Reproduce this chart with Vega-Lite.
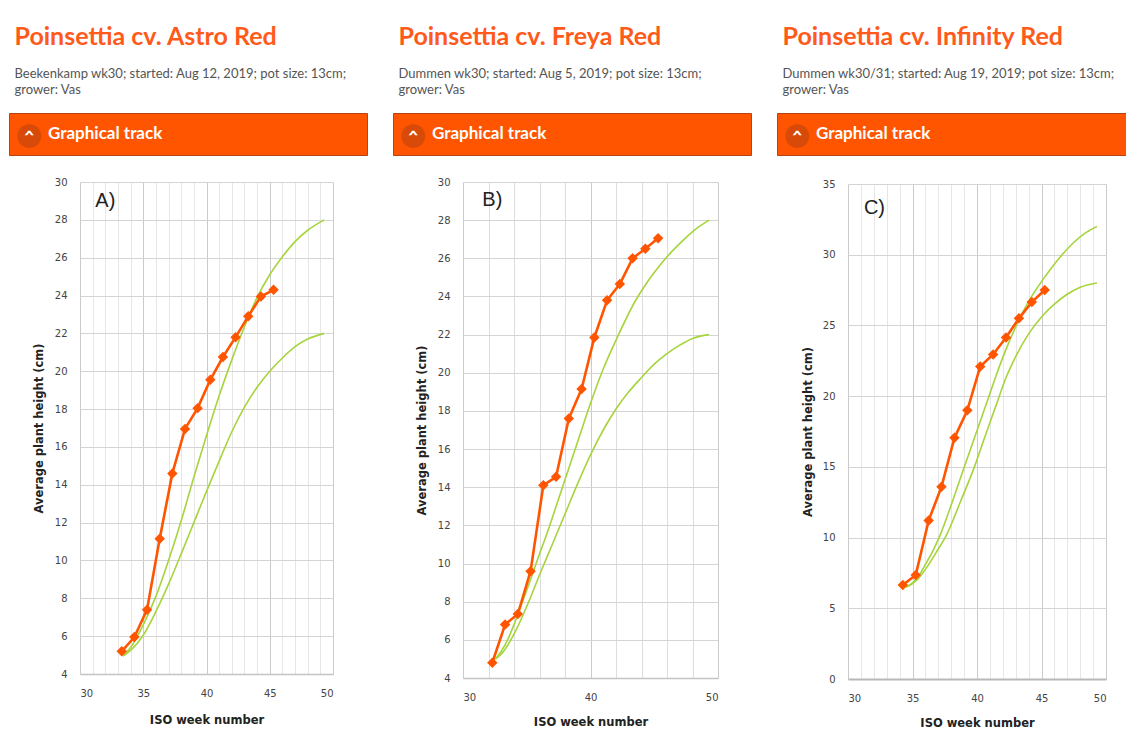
{
  "$schema": "https://vega.github.io/schema/vega-lite/v6.json",
  "padding": {"left": 8, "top": 24, "right": 0, "bottom": 0},
  "background": "white",
  "config": {"view": {"stroke": null}, "font": "Lato"},
  "datasets": {
    "orangeA": [
      {"week": 33.3, "height": 5.2}, {"week": 34.3, "height": 5.95}, {"week": 35.3, "height": 7.4},
      {"week": 36.3, "height": 11.15}, {"week": 37.3, "height": 14.6}, {"week": 38.3, "height": 16.95},
      {"week": 39.3, "height": 18.05}, {"week": 40.3, "height": 19.55}, {"week": 41.3, "height": 20.75},
      {"week": 42.3, "height": 21.8}, {"week": 43.3, "height": 22.9}, {"week": 44.3, "height": 23.95},
      {"week": 45.3, "height": 24.3}
    ],
    "greenA": [
      {"curve": "max", "week": 33.4, "height": 4.95}, {"curve": "max", "week": 34.0, "height": 5.4},
      {"curve": "max", "week": 35.0, "height": 6.6}, {"curve": "max", "week": 36.0, "height": 8.1},
      {"curve": "max", "week": 37.0, "height": 10.0}, {"curve": "max", "week": 38.0, "height": 12.1},
      {"curve": "max", "week": 39.0, "height": 14.4}, {"curve": "max", "week": 40.0, "height": 16.6},
      {"curve": "max", "week": 41.0, "height": 18.7}, {"curve": "max", "week": 42.0, "height": 20.6},
      {"curve": "max", "week": 43.0, "height": 22.35}, {"curve": "max", "week": 44.0, "height": 23.9},
      {"curve": "max", "week": 45.0, "height": 25.1}, {"curve": "max", "week": 46.0, "height": 26.05},
      {"curve": "max", "week": 47.0, "height": 26.85}, {"curve": "max", "week": 48.0, "height": 27.45},
      {"curve": "max", "week": 49.3, "height": 28.0},
      {"curve": "min", "week": 33.4, "height": 4.95}, {"curve": "min", "week": 34.0, "height": 5.25},
      {"curve": "min", "week": 35.0, "height": 6.05}, {"curve": "min", "week": 36.0, "height": 7.3},
      {"curve": "min", "week": 37.0, "height": 8.75}, {"curve": "min", "week": 38.0, "height": 10.35},
      {"curve": "min", "week": 39.0, "height": 12.0}, {"curve": "min", "week": 40.0, "height": 13.65},
      {"curve": "min", "week": 41.0, "height": 15.25}, {"curve": "min", "week": 42.0, "height": 16.8},
      {"curve": "min", "week": 43.0, "height": 18.1}, {"curve": "min", "week": 44.0, "height": 19.15},
      {"curve": "min", "week": 45.0, "height": 20.0}, {"curve": "min", "week": 46.0, "height": 20.7},
      {"curve": "min", "week": 47.0, "height": 21.3}, {"curve": "min", "week": 48.0, "height": 21.7},
      {"curve": "min", "week": 49.3, "height": 22.0}
    ],
    "orangeB": [
      {"week": 32.3, "height": 4.8}, {"week": 33.3, "height": 6.8}, {"week": 34.3, "height": 7.35},
      {"week": 35.3, "height": 9.6}, {"week": 36.3, "height": 14.1}, {"week": 37.3, "height": 14.55},
      {"week": 38.3, "height": 17.6}, {"week": 39.3, "height": 19.15}, {"week": 40.3, "height": 21.85},
      {"week": 41.3, "height": 23.8}, {"week": 42.3, "height": 24.65}, {"week": 43.3, "height": 26.0},
      {"week": 44.3, "height": 26.5}, {"week": 45.3, "height": 27.05}
    ],
    "greenB": [
      {"curve": "max", "week": 32.55, "height": 5.0}, {"curve": "max", "week": 33.0, "height": 5.4},
      {"curve": "max", "week": 33.5, "height": 6.0}, {"curve": "max", "week": 34.0, "height": 6.8},
      {"curve": "max", "week": 34.5, "height": 7.7}, {"curve": "max", "week": 35.0, "height": 8.6},
      {"curve": "max", "week": 35.5, "height": 9.55}, {"curve": "max", "week": 36.0, "height": 10.5},
      {"curve": "max", "week": 36.6, "height": 11.6}, {"curve": "max", "week": 37.5, "height": 13.4},
      {"curve": "max", "week": 38.3, "height": 15.0}, {"curve": "max", "week": 39.2, "height": 16.8},
      {"curve": "max", "week": 40.0, "height": 18.4}, {"curve": "max", "week": 41.0, "height": 20.2},
      {"curve": "max", "week": 42.2, "height": 22.0}, {"curve": "max", "week": 43.5, "height": 23.75},
      {"curve": "max", "week": 44.5, "height": 24.8}, {"curve": "max", "week": 45.4, "height": 25.6},
      {"curve": "max", "week": 46.3, "height": 26.3}, {"curve": "max", "week": 47.2, "height": 26.9},
      {"curve": "max", "week": 48.2, "height": 27.5}, {"curve": "max", "week": 49.3, "height": 28.0},
      {"curve": "min", "week": 32.55, "height": 5.0}, {"curve": "min", "week": 33.0, "height": 5.25},
      {"curve": "min", "week": 34.0, "height": 6.3}, {"curve": "min", "week": 35.0, "height": 7.75},
      {"curve": "min", "week": 36.0, "height": 9.4}, {"curve": "min", "week": 37.0, "height": 11.0},
      {"curve": "min", "week": 38.0, "height": 12.6}, {"curve": "min", "week": 39.0, "height": 14.2},
      {"curve": "min", "week": 40.0, "height": 15.7}, {"curve": "min", "week": 41.0, "height": 17.0},
      {"curve": "min", "week": 42.0, "height": 18.1}, {"curve": "min", "week": 43.0, "height": 19.0},
      {"curve": "min", "week": 44.0, "height": 19.75}, {"curve": "min", "week": 45.0, "height": 20.45},
      {"curve": "min", "week": 46.0, "height": 21.0}, {"curve": "min", "week": 47.0, "height": 21.45},
      {"curve": "min", "week": 48.0, "height": 21.8}, {"curve": "min", "week": 49.3, "height": 22.0}
    ],
    "orangeC": [
      {"week": 34.25, "height": 6.65}, {"week": 35.25, "height": 7.35}, {"week": 36.25, "height": 11.2},
      {"week": 37.25, "height": 13.6}, {"week": 38.25, "height": 17.05}, {"week": 39.25, "height": 19.0},
      {"week": 40.25, "height": 22.1}, {"week": 41.25, "height": 22.95}, {"week": 42.25, "height": 24.15},
      {"week": 43.25, "height": 25.5}, {"week": 44.25, "height": 26.65}, {"week": 45.25, "height": 27.5}
    ],
    "greenC": [
      {"curve": "max", "week": 34.5, "height": 6.5}, {"curve": "max", "week": 35.0, "height": 6.8},
      {"curve": "max", "week": 35.5, "height": 7.3}, {"curve": "max", "week": 36.0, "height": 8.1},
      {"curve": "max", "week": 36.6, "height": 9.1}, {"curve": "max", "week": 37.2, "height": 10.3},
      {"curve": "max", "week": 38.0, "height": 12.3}, {"curve": "max", "week": 39.0, "height": 14.95},
      {"curve": "max", "week": 39.9, "height": 17.3}, {"curve": "max", "week": 40.8, "height": 19.66},
      {"curve": "max", "week": 41.5, "height": 21.5}, {"curve": "max", "week": 42.2, "height": 23.2},
      {"curve": "max", "week": 43.0, "height": 24.9}, {"curve": "max", "week": 44.0, "height": 26.7},
      {"curve": "max", "week": 45.0, "height": 28.1}, {"curve": "max", "week": 45.8, "height": 29.1},
      {"curve": "max", "week": 46.7, "height": 30.1}, {"curve": "max", "week": 47.6, "height": 30.95},
      {"curve": "max", "week": 48.5, "height": 31.6}, {"curve": "max", "week": 49.3, "height": 32.0},
      {"curve": "min", "week": 34.5, "height": 6.5}, {"curve": "min", "week": 35.0, "height": 6.75},
      {"curve": "min", "week": 35.5, "height": 7.15}, {"curve": "min", "week": 36.0, "height": 7.75},
      {"curve": "min", "week": 36.8, "height": 8.9}, {"curve": "min", "week": 37.7, "height": 10.3},
      {"curve": "min", "week": 38.7, "height": 12.5}, {"curve": "min", "week": 39.8, "height": 15.0},
      {"curve": "min", "week": 40.6, "height": 17.1}, {"curve": "min", "week": 41.5, "height": 19.4},
      {"curve": "min", "week": 42.2, "height": 21.2}, {"curve": "min", "week": 43.0, "height": 22.8},
      {"curve": "min", "week": 44.0, "height": 24.4}, {"curve": "min", "week": 45.0, "height": 25.6},
      {"curve": "min", "week": 46.0, "height": 26.5}, {"curve": "min", "week": 46.9, "height": 27.15},
      {"curve": "min", "week": 48.0, "height": 27.7}, {"curve": "min", "week": 49.3, "height": 28.0}
    ],
    "bar": [{"label": "Graphical track", "circle": "●", "chevron": "›"}]
  },
  "spacing": 24,
  "hconcat": [
    {
      "title": {"text": "Poinsettia cv. Astro Red", "subtitle": ["Beekenkamp wk30; started: Aug 12, 2019; pot size: 13cm;", "grower: Vas"], "anchor": "start", "dx": 6, "font": "Lato", "fontSize": 25, "fontWeight": "bold", "color": "#ff5a1a", "subtitleFont": "Lato", "subtitleFontSize": 13, "subtitleColor": "#555555", "subtitlePadding": 18, "subtitleLineHeight": 16, "offset": 16},
      "spacing": 21,
      "vconcat": [
        {
          "width": 358, "height": 42,
          "view": {"fill": "#ff5500", "stroke": "#b84410", "strokeWidth": 1},
          "data": {"name": "bar"},
          "layer": [
            {"mark": {"type": "text", "font": "DejaVu Sans", "fontSize": 31, "color": "#d84a08", "align": "center", "baseline": "middle", "dx": -159, "dy": 1}, "encoding": {"text": {"field": "circle"}}},
            {"mark": {"type": "text", "font": "DejaVu Sans", "fontSize": 19, "fontWeight": "bold", "color": "white", "align": "center", "baseline": "middle", "angle": 270, "dx": 1, "dy": -159}, "encoding": {"text": {"field": "chevron"}}},
            {"mark": {"type": "text", "font": "Lato", "fontSize": 17, "fontWeight": "bold", "color": "white", "align": "left", "baseline": "middle", "dx": -140}, "encoding": {"text": {"field": "label"}}}
          ]
        },
        {
          "spacing": 23,
          "hconcat": [
            {"width": 1, "height": 1, "data": {"values": []}, "mark": {"type": "point", "opacity": 0}},
            {
              "width": 253, "height": 492,
              "encoding": {
                "x": {"field": "week", "type": "quantitative", "scale": {"domain": [30, 50], "nice": false, "zero": false},
                  "axis": {"values": [30,31,32,33,34,35,36,37,38,39,40,41,42,43,44,45,46,47,48,49,50], "labelExpr": "datum.value % 5 == 0 ? datum.label : ''", "gridColor": {"condition": {"test": "datum.value % 5 == 0", "value": "#cbcbcb"}, "value": "#e6e6e6"}, "ticks": false, "domainColor": "#c4c4c4", "domainWidth": 1.5, "labelFont": "DejaVu Sans", "labelFontSize": 10, "labelColor": "#444444", "labelPadding": 14, "title": "ISO week number", "titleFont": "DejaVu Sans", "titleFontSize": 11.5, "titleFontWeight": "bold", "titleColor": "#222222", "titlePadding": 16}},
                "y": {"field": "height", "type": "quantitative", "scale": {"domain": [4, 30], "nice": false, "zero": false},
                  "axis": {"values": [4,6,8,10,12,14,16,18,20,22,24,26,28,30], "gridColor": "#d4d4d4", "ticks": false, "domain": false, "labelFont": "DejaVu Sans", "labelFontSize": 10, "labelColor": "#444444", "labelPadding": 13, "title": "Average plant height (cm)", "titleFont": "DejaVu Sans", "titleFontSize": 11.5, "titleFontWeight": "bold", "titleColor": "#222222", "titlePadding": 10}}
              },
              "layer": [
                {"data": {"name": "greenA"}, "mark": {"type": "line", "interpolate": "monotone", "color": "#a6d43c", "strokeWidth": 1.6}, "encoding": {"detail": {"field": "curve"}}},
                {"data": {"name": "orangeA"}, "mark": {"type": "line", "color": "#ff5500", "strokeWidth": 2.6, "point": {"shape": "diamond", "size": 110, "filled": true, "color": "#ff5500"}}},
                {"data": {"values": [{"week": 32.0, "height": 29.0, "label": "A)"}]}, "mark": {"type": "text", "font": "Liberation Sans", "fontSize": 20, "color": "#222222"}, "encoding": {"text": {"field": "label"}}}
              ]
            }
          ]
        }
      ]
    },
    {
      "title": {"text": "Poinsettia cv. Freya Red", "subtitle": ["Dummen wk30; started: Aug 5, 2019; pot size: 13cm;", "grower: Vas"], "anchor": "start", "dx": 6, "font": "Lato", "fontSize": 25, "fontWeight": "bold", "color": "#ff5a1a", "subtitleFont": "Lato", "subtitleFontSize": 13, "subtitleColor": "#555555", "subtitlePadding": 18, "subtitleLineHeight": 16, "offset": 16},
      "spacing": 21,
      "vconcat": [
        {
          "width": 358, "height": 42,
          "view": {"fill": "#ff5500", "stroke": "#b84410", "strokeWidth": 1},
          "data": {"name": "bar"},
          "layer": [
            {"mark": {"type": "text", "font": "DejaVu Sans", "fontSize": 31, "color": "#d84a08", "align": "center", "baseline": "middle", "dx": -159, "dy": 1}, "encoding": {"text": {"field": "circle"}}},
            {"mark": {"type": "text", "font": "DejaVu Sans", "fontSize": 19, "fontWeight": "bold", "color": "white", "align": "center", "baseline": "middle", "angle": 270, "dx": 1, "dy": -159}, "encoding": {"text": {"field": "chevron"}}},
            {"mark": {"type": "text", "font": "Lato", "fontSize": 17, "fontWeight": "bold", "color": "white", "align": "left", "baseline": "middle", "dx": -140}, "encoding": {"text": {"field": "label"}}}
          ]
        },
        {
          "spacing": 22,
          "hconcat": [
            {"width": 1, "height": 1, "data": {"values": []}, "mark": {"type": "point", "opacity": 0}},
            {
              "width": 255, "height": 496,
              "encoding": {
                "x": {"field": "week", "type": "quantitative", "scale": {"domain": [30, 50], "nice": false, "zero": false},
                  "axis": {"values": [30,32,34,36,38,40,42,44,46,48,50], "labelExpr": "datum.value % 10 == 0 ? datum.label : ''", "gridColor": {"condition": {"test": "datum.value % 10 == 0", "value": "#cbcbcb"}, "value": "#dedede"}, "ticks": false, "domainColor": "#c4c4c4", "domainWidth": 1.5, "labelFont": "DejaVu Sans", "labelFontSize": 10, "labelColor": "#444444", "labelPadding": 14, "title": "ISO week number", "titleFont": "DejaVu Sans", "titleFontSize": 11.5, "titleFontWeight": "bold", "titleColor": "#222222", "titlePadding": 14}},
                "y": {"field": "height", "type": "quantitative", "scale": {"domain": [4, 30], "nice": false, "zero": false},
                  "axis": {"values": [4,6,8,10,12,14,16,18,20,22,24,26,28,30], "gridColor": "#d4d4d4", "ticks": false, "domain": false, "labelFont": "DejaVu Sans", "labelFontSize": 10, "labelColor": "#444444", "labelPadding": 13, "title": "Average plant height (cm)", "titleFont": "DejaVu Sans", "titleFontSize": 11.5, "titleFontWeight": "bold", "titleColor": "#222222", "titlePadding": 10}}
              },
              "layer": [
                {"data": {"name": "greenB"}, "mark": {"type": "line", "interpolate": "monotone", "color": "#a6d43c", "strokeWidth": 1.6}, "encoding": {"detail": {"field": "curve"}}},
                {"data": {"name": "orangeB"}, "mark": {"type": "line", "color": "#ff5500", "strokeWidth": 2.6, "point": {"shape": "diamond", "size": 110, "filled": true, "color": "#ff5500"}}},
                {"data": {"values": [{"week": 32.3, "height": 29.05, "label": "B)"}]}, "mark": {"type": "text", "font": "Liberation Sans", "fontSize": 20, "color": "#222222"}, "encoding": {"text": {"field": "label"}}}
              ]
            }
          ]
        }
      ]
    },
    {
      "title": {"text": "Poinsettia cv. Infinity Red", "subtitle": ["Dummen wk30/31; started: Aug 19, 2019; pot size: 13cm;", "grower: Vas"], "anchor": "start", "dx": 6, "font": "Lato", "fontSize": 25, "fontWeight": "bold", "color": "#ff5a1a", "subtitleFont": "Lato", "subtitleFontSize": 13, "subtitleColor": "#555555", "subtitlePadding": 18, "subtitleLineHeight": 16, "offset": 16},
      "spacing": 23,
      "vconcat": [
        {
          "width": 350, "height": 42,
          "view": {"fill": "#ff5500", "stroke": "#b84410", "strokeWidth": 1},
          "data": {"name": "bar"},
          "layer": [
            {"mark": {"type": "text", "font": "DejaVu Sans", "fontSize": 31, "color": "#d84a08", "align": "center", "baseline": "middle", "dx": -155, "dy": 1}, "encoding": {"text": {"field": "circle"}}},
            {"mark": {"type": "text", "font": "DejaVu Sans", "fontSize": 19, "fontWeight": "bold", "color": "white", "align": "center", "baseline": "middle", "angle": 270, "dx": 1, "dy": -155}, "encoding": {"text": {"field": "chevron"}}},
            {"mark": {"type": "text", "font": "Lato", "fontSize": 17, "fontWeight": "bold", "color": "white", "align": "left", "baseline": "middle", "dx": -136}, "encoding": {"text": {"field": "label"}}}
          ]
        },
        {
          "spacing": 24,
          "hconcat": [
            {"width": 1, "height": 1, "data": {"values": []}, "mark": {"type": "point", "opacity": 0}},
            {
              "width": 258, "height": 495,
              "encoding": {
                "x": {"field": "week", "type": "quantitative", "scale": {"domain": [30, 50], "nice": false, "zero": false},
                  "axis": {"values": [30,31,32,33,34,35,36,37,38,39,40,41,42,43,44,45,46,47,48,49,50], "labelExpr": "datum.value % 5 == 0 ? datum.label : ''", "gridColor": {"condition": {"test": "datum.value % 5 == 0", "value": "#cbcbcb"}, "value": "#e6e6e6"}, "ticks": false, "domainColor": "#b8b8b8", "domainWidth": 2, "labelFont": "DejaVu Sans", "labelFontSize": 10, "labelColor": "#444444", "labelPadding": 14, "title": "ISO week number", "titleFont": "DejaVu Sans", "titleFontSize": 11.5, "titleFontWeight": "bold", "titleColor": "#222222", "titlePadding": 14}},
                "y": {"field": "height", "type": "quantitative", "scale": {"domain": [0, 35], "nice": false},
                  "axis": {"values": [0,5,10,15,20,25,30,35], "gridColor": "#d4d4d4", "ticks": false, "domain": false, "labelFont": "DejaVu Sans", "labelFontSize": 10, "labelColor": "#444444", "labelPadding": 13, "title": "Average plant height (cm)", "titleFont": "DejaVu Sans", "titleFontSize": 11.5, "titleFontWeight": "bold", "titleColor": "#222222", "titlePadding": 9}}
              },
              "layer": [
                {"data": {"name": "greenC"}, "mark": {"type": "line", "interpolate": "monotone", "color": "#a6d43c", "strokeWidth": 1.6}, "encoding": {"detail": {"field": "curve"}}},
                {"data": {"name": "orangeC"}, "mark": {"type": "line", "color": "#ff5500", "strokeWidth": 2.6, "point": {"shape": "diamond", "size": 110, "filled": true, "color": "#ff5500"}}},
                {"data": {"values": [{"week": 32.05, "height": 33.3, "label": "C)"}]}, "mark": {"type": "text", "font": "Liberation Sans", "fontSize": 20, "color": "#222222"}, "encoding": {"text": {"field": "label"}}}
              ]
            }
          ]
        }
      ]
    }
  ]
}
